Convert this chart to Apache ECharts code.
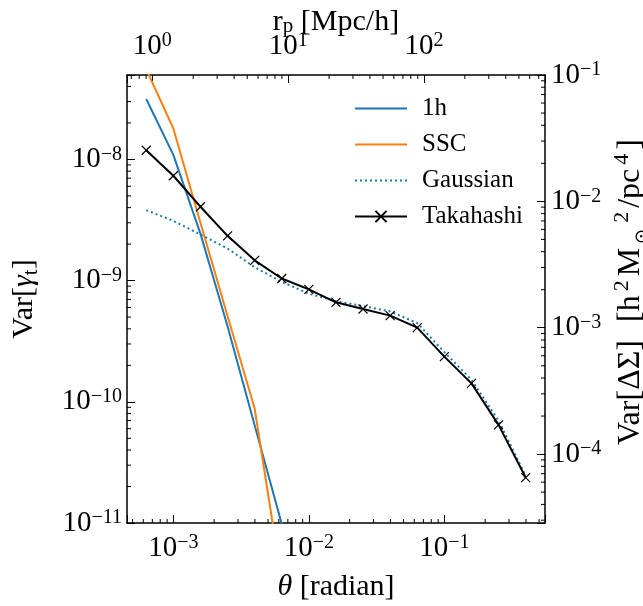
<!DOCTYPE html>
<html><head><meta charset="utf-8">
<script src="https://cdn.jsdelivr.net/npm/echarts@6/dist/echarts.min.js"></script>
<style>html,body{margin:0;padding:0;background:#fff}#c{width:643px;height:606px}</style>
</head><body><div id="c"></div>
<script>
// ---- data ----
const theta = [6.31e-4, 1.0e-3, 1.585e-3, 2.512e-3, 3.981e-3, 6.31e-3, 1.0e-2, 1.585e-2, 2.512e-2, 3.981e-2, 6.31e-2, 0.1, 0.1585, 0.2512, 0.3981];
const takahashi = [1.19e-8, 7.33e-9, 4.07e-9, 2.34e-9, 1.47e-9, 1.04e-9, 8.47e-10, 6.62e-10, 5.83e-10, 5.14e-10, 4.09e-10, 2.36e-10, 1.42e-10, 6.45e-11, 2.37e-11];
const gaussian = [3.81e-9, 3.11e-9, 2.40e-9, 1.84e-9, 1.29e-9, 9.75e-10, 7.8e-10, 6.78e-10, 6.17e-10, 5.57e-10, 4.46e-10, 2.57e-10, 1.52e-10, 7.0e-11, 2.45e-11];
const thetaShort = [6.31e-4, 1.0e-3, 1.585e-3, 2.512e-3, 3.981e-3, 6.31e-3];
const oneHalo = [3.15e-8, 1.09e-8, 2.44e-9, 4.2e-10, 6.4e-11, 9.8e-12];
const ssc = [5.55e-8, 1.80e-8, 3.0e-9, 5.1e-10, 8.8e-11, 3.3e-12];
const seriesNames = ['1h', 'SSC', 'Gaussian', 'Takahashi'];
const thetaRange = [4.55e-4, 0.553];
const varRange = [1e-11, 4.97e-8];
const rpRange = [0.651, 778];
const dsRange = [2.85e-5, 0.1];

const FONT = 'Liberation Serif';
const pair = (xs, ys) => xs.map((x, i) => [x, ys[i]]);

function powLabel(v) {
  const l = Math.log10(v);
  const e = Math.round(l);
  if (Math.abs(l - e) > 1e-6) return '';
  return '{b|10}{s|' + (e < 0 ? '\u2212' + (-e) : String(e)) + '}';
}
const labelRich = {
  b: {fontFamily: FONT, fontSize: 29, color: '#000', lineHeight: 30},
  s: {fontFamily: FONT, fontSize: 20, color: '#000', verticalAlign: 'top', lineHeight: 30}
};
function minorTicks(lo, hi) {
  const out = [];
  for (let n = Math.floor(Math.log10(lo)); n <= Math.ceil(Math.log10(hi)); n++) {
    for (let k = 2; k <= 9; k++) {
      const v = k * Math.pow(10, n);
      if (v > lo && v < hi) out.push(v);
    }
  }
  return out;
}
function tickSeries(values, xi, yi, side, anchor) {
  return {
    type: 'custom', xAxisIndex: xi, yAxisIndex: yi, silent: true, z: 10, clip: false,
    encode: {x: 0, y: 1},
    data: values.map(v => (side === 'bottom' || side === 'top') ? [v, anchor] : [anchor, v]),
    renderItem: function (params, api) {
      const cs = params.coordSys;
      const p = api.coord([api.value(0), api.value(1)]);
      let shape;
      if (side === 'bottom') shape = {x1: p[0], y1: cs.y + cs.height, x2: p[0], y2: cs.y + cs.height - 4};
      else if (side === 'top') shape = {x1: p[0], y1: cs.y, x2: p[0], y2: cs.y + 4};
      else if (side === 'left') shape = {x1: cs.x, y1: p[1], x2: cs.x + 4, y2: p[1]};
      else shape = {x1: cs.x + cs.width, y1: p[1], x2: cs.x + cs.width - 4, y2: p[1]};
      return {type: 'line', shape: shape, style: {stroke: '#000', lineWidth: 1}};
    }
  };
}
const axisLine = {show: true, onZero: false, lineStyle: {color: '#000', width: 1.5}};
const axisTick = {show: true, inside: true, length: 8, lineStyle: {color: '#000', width: 1}};
const nameStyle = {fontFamily: FONT, fontSize: 30, color: '#000'};
const noMarker = {color: 'rgba(0,0,0,0)', borderWidth: 0, opacity: 0};

const chart = echarts.init(document.getElementById('c'), null, {renderer: 'canvas'});
chart.setOption({
  animation: false,
  backgroundColor: '#fff',
  grid: {left: 127, right: 98, top: 75, bottom: 83, containLabel: false, outerBoundsMode: 'none'},
  legend: {
    orient: 'vertical', left: 349, top: 91, itemWidth: 52, itemHeight: 14, itemGap: 11,
    data: [
      {name: seriesNames[0], itemStyle: noMarker},
      {name: seriesNames[1], itemStyle: noMarker},
      {name: seriesNames[2], itemStyle: noMarker},
      {name: seriesNames[3]}
    ],
    textStyle: {fontFamily: FONT, fontSize: 25, color: '#000', padding: [0, 0, 0, 10]}
  },
  xAxis: [
    {
      type: 'log', logBase: 10, min: thetaRange[0], max: thetaRange[1], position: 'bottom',
      name: '{i|θ} [radian]', nameLocation: 'middle', nameGap: 49, nameMoveOverlap: false,
      nameTextStyle: Object.assign({}, nameStyle, {rich: {i: {fontFamily: FONT, fontSize: 30, fontStyle: 'italic', color: '#000'}}}),
      axisLine: axisLine, axisTick: axisTick,
      axisLabel: {formatter: powLabel, rich: labelRich, margin: 10, interval: 0, showMinLabel: true, showMaxLabel: true},
      splitLine: {show: false}
    },
    {
      type: 'log', logBase: 10, min: rpRange[0], max: rpRange[1], position: 'top',
      name: 'r{sub|p} [Mpc/h]', nameLocation: 'middle', nameGap: 38, nameMoveOverlap: false,
      nameTextStyle: Object.assign({}, nameStyle, {rich: {sub: {fontFamily: FONT, fontSize: 21, color: '#000', verticalAlign: 'bottom'}}}),
      axisLine: axisLine, axisTick: axisTick,
      axisLabel: {formatter: powLabel, rich: labelRich, margin: 14, interval: 0},
      splitLine: {show: false}
    }
  ],
  yAxis: [
    {
      type: 'log', logBase: 10, min: varRange[0], max: varRange[1], position: 'left',
      name: 'Var[{g|γ}{sub|t}]', nameLocation: 'middle', nameGap: 85, nameMoveOverlap: false,
      nameTextStyle: Object.assign({}, nameStyle, {rich: {
        g: {fontFamily: FONT, fontSize: 30, fontStyle: 'italic', color: '#000'},
        sub: {fontFamily: FONT, fontSize: 21, color: '#000', verticalAlign: 'bottom', lineHeight: 36}}}),
      axisLine: axisLine, axisTick: axisTick,
      axisLabel: {formatter: powLabel, rich: labelRich, margin: 5, interval: 0},
      splitLine: {show: false}
    },
    {
      type: 'log', logBase: 10, min: dsRange[0], max: dsRange[1], position: 'right',
      name: '{t|Var[ΔΣ]}  {t|[h}{sup|2}{t|M}{sub|⊙}{sup|2}{t|/pc}{sup|4}{t|]}', nameLocation: 'middle', nameGap: 66, nameMoveOverlap: false,
      nameTextStyle: Object.assign({}, nameStyle, {fontSize: 32, padding: [0, 0, 0, 14], rich: {
        t: {fontFamily: FONT, fontSize: 32, color: '#000', lineHeight: 40, padding: [0, 1, 0, 1]},
        sup: {fontFamily: FONT, fontSize: 22, color: '#000', verticalAlign: 'top', lineHeight: 40, padding: [0, 3, 0, 3]},
        sub: {fontFamily: 'DejaVu Sans', fontSize: 18, color: '#000', verticalAlign: 'bottom', lineHeight: 40, padding: [0, 3, 0, 3]}}}),
      axisLine: axisLine, axisTick: axisTick,
      axisLabel: {formatter: powLabel, rich: labelRich, margin: 6, interval: 0},
      splitLine: {show: false}
    }
  ],
  series: [
    {name: '1h', type: 'line', xAxisIndex: 0, yAxisIndex: 0, data: pair(thetaShort, oneHalo), symbol: 'none',
      itemStyle: {color: '#1f77b4'}, lineStyle: {color: '#1f77b4', width: 2}, clip: true, z: 3},
    {name: 'SSC', type: 'line', xAxisIndex: 0, yAxisIndex: 0, data: pair(thetaShort, ssc), symbol: 'none',
      itemStyle: {color: '#ff7f0e'}, lineStyle: {color: '#ff7f0e', width: 2}, clip: true, z: 3},
    {name: 'Gaussian', type: 'line', xAxisIndex: 0, yAxisIndex: 0, data: pair(theta, gaussian), symbol: 'none',
      itemStyle: {color: '#1f77b4'}, lineStyle: {color: '#1f77b4', width: 2, type: [2, 3]}, clip: true, z: 3},
    {name: 'Takahashi', type: 'line', xAxisIndex: 0, yAxisIndex: 0, data: pair(theta, takahashi),
      symbol: 'path://M0,0L10,10M10,0L0,10', symbolSize: 9, showSymbol: true,
      itemStyle: {color: '#000', borderColor: '#000', borderWidth: 1.2},
      lineStyle: {color: '#000', width: 2}, clip: true, z: 4},
    tickSeries(minorTicks(thetaRange[0], thetaRange[1]), 0, 0, 'bottom', 1e-10),
    tickSeries(minorTicks(rpRange[0], rpRange[1]), 1, 0, 'top', 1e-10),
    tickSeries(minorTicks(varRange[0], varRange[1]), 0, 0, 'left', 0.01),
    tickSeries(minorTicks(dsRange[0], dsRange[1]), 0, 1, 'right', 0.01)
  ]
});
</script>
</body></html>
